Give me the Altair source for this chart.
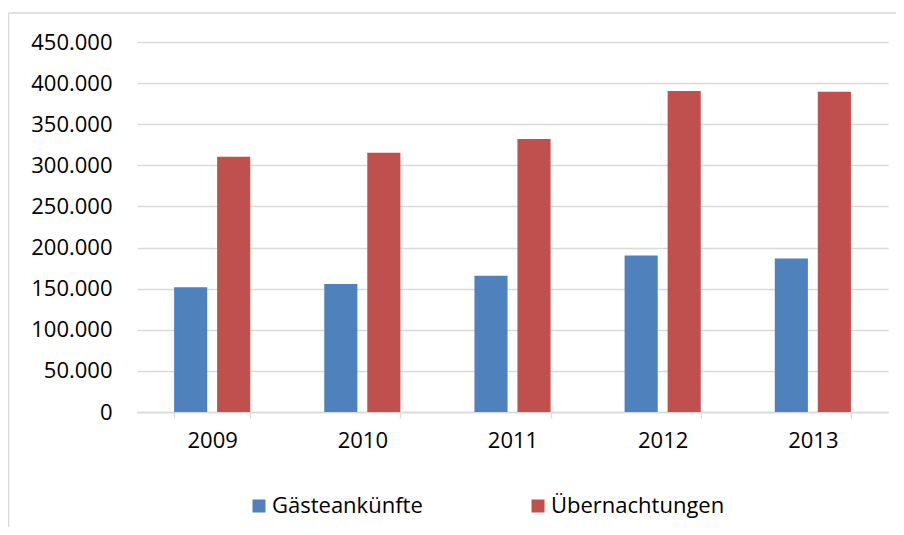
import altair as alt
import pandas as pd

years = ["2009", "2010", "2011", "2012", "2013"]
gaeste = [151800, 155800, 165600, 190300, 186700]
uebern = [310500, 315300, 332000, 390400, 389600]
series_names = ["Gästeankünfte", "Übernachtungen"]
colors = ["#4F81BD", "#C0504D"]
y_ticks = [0, 50000, 100000, 150000, 200000, 250000, 300000, 350000, 400000, 450000]

rows = []
for i, yr in enumerate(years):
    rows.append({"Jahr": yr, "Serie": series_names[0], "Wert": gaeste[i]})
    rows.append({"Jahr": yr, "Serie": series_names[1], "Wert": uebern[i]})
df = pd.DataFrame(rows)

FONT = "Open Sans"
GRID = "#d9d9d9"

bars = alt.Chart(df).mark_bar().encode(
    x=alt.X("Jahr:N", sort=years, title=None,
            scale=alt.Scale(paddingInner=0.493, paddingOuter=0.247),
            axis=alt.Axis(labelAngle=0, tickBand="extent", tickSize=6,
                          tickColor=GRID, domainColor=GRID, domainWidth=1.3,
                          tickWidth=1.3, labelPadding=12)),
    xOffset=alt.XOffset("Serie:N", sort=series_names,
                        scale=alt.Scale(paddingInner=0.23, paddingOuter=0)),
    y=alt.Y("Wert:Q", title=None,
            scale=alt.Scale(domain=[0, 450000], nice=False),
            axis=alt.Axis(values=y_ticks, domain=False, ticks=False,
                          gridColor=GRID, gridWidth=1.3, labelPadding=25,
                          labelExpr="datum.value == 0 ? '0' : format(datum.value / 1000, 'd') + '.000'")),
    color=alt.Color("Serie:N", sort=series_names, title=None,
                    scale=alt.Scale(domain=series_names, range=colors),
                    legend=alt.Legend(orient="none", legendX=111, legendY=453,
                                      direction="horizontal", symbolType="square",
                                      symbolSize=169, symbolStrokeWidth=0,
                                      labelOffset=2, columnPadding=104,
                                      labelLimit=400)),
)

frame = pd.DataFrame({"a": [0]})
left_line = alt.Chart(frame).mark_rule(color=GRID, strokeWidth=1.5).encode(
    x=alt.value(-128.5), y=alt.value(-29), y2=alt.value(520))
top_line = alt.Chart(frame).mark_rule(color=GRID, strokeWidth=1.5).encode(
    x=alt.value(-128.5), x2=alt.value(780), y=alt.value(-29))

chart = alt.layer(left_line, top_line, bars).properties(
    width=751, height=370,
    padding={"left": 129, "top": 34, "right": 8, "bottom": 115},
    autosize=alt.AutoSizeParams(type="none"),
).configure_view(stroke=None).configure_axis(
    labelFont=FONT, labelFontSize=22, labelColor="#000000"
).configure_legend(
    labelFont=FONT, labelFontSize=22, labelColor="#000000"
)

chart.save("out.html", embed_options={"renderer": "svg", "actions": False})
